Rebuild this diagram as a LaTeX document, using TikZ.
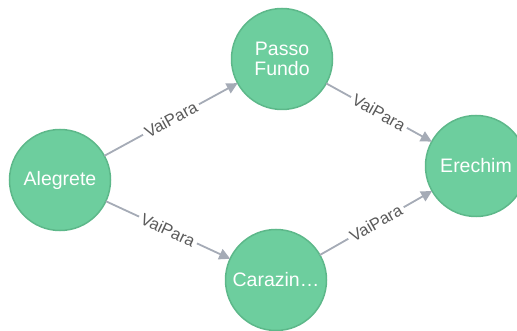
\documentclass[tikz,border=0pt]{standalone}
\usepackage{fontspec}
\setmainfont{Liberation Sans}
\usetikzlibrary{arrows.meta}
\definecolor{nodefill}{HTML}{6DCE9E}
\definecolor{nodeborder}{HTML}{5DB88A}
\definecolor{edgegray}{HTML}{A5ABB6}
\definecolor{labelgray}{HTML}{5A5A5A}
\tikzset{
  city/.style={circle, fill=nodefill, draw=nodeborder, line width=1.5pt,
    minimum size=101pt, inner sep=0pt, outer sep=0pt, text=white,
    font=\fontsize{19.5}{20}\selectfont, align=center},
  rel/.style={draw=edgegray, line width=1.8pt,
    -{Triangle[length=11pt,width=11pt]}},
  rellabel/.style={sloped, fill=white, inner sep=3pt, text=labelgray,
    font=\fontsize{16.5}{17}\selectfont}
}
\begin{document}
\begin{tikzpicture}[x=1pt, y=-1pt]
  \useasboundingbox (0,0) rectangle (517,331);
  \node[city] (alegrete) at (60,180) {Alegrete};
  \node[city] (passo) at (282,59) {Passo\\Fundo};
  \node[city] (erechim) at (476,166) {Erechim};
  \node[city] (carazin) at (276,280) {Carazin…};

  \draw[rel] (alegrete) -- node[rellabel] {VaiPara} (passo);
  \draw[rel] (passo) -- node[rellabel] {VaiPara} (erechim);
  \draw[rel] (alegrete) -- node[rellabel] {VaiPara} (carazin);
  \draw[rel] (carazin) -- node[rellabel] {VaiPara} (erechim);
\end{tikzpicture}
\end{document}
